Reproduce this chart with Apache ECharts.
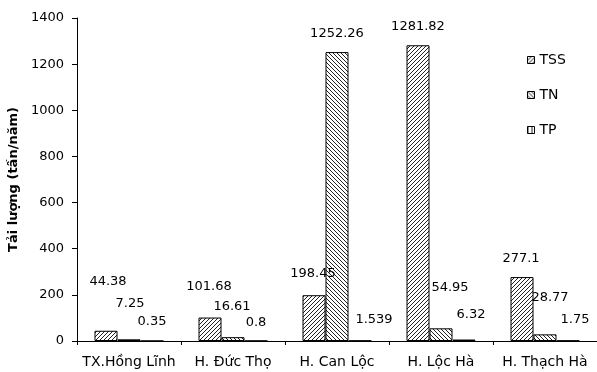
<!DOCTYPE html>
<html>
<head>
<meta charset="utf-8">
<script src="https://cdn.jsdelivr.net/npm/echarts@6/dist/echarts.min.js"></script>
<style>html,body{margin:0;padding:0;background:#fff}#c{width:597px;height:372px}</style>
</head>
<body>
<div id="c"></div>
<script>
// ---- data ----
const categories = ['TX.Hồng Lĩnh', 'H. Đức Thọ', 'H. Can Lộc', 'H. Lộc Hà', 'H. Thạch Hà'];
const seriesNames = ['TSS', 'TN', 'TP'];
const tss = [44.38, 101.68, 198.45, 1281.82, 277.1];
const tn = [7.25, 16.61, 1252.26, 54.95, 28.77];
const tp = [0.35, 0.8, 1.539, 6.32, 1.75];
const yTicks = [0, 200, 400, 600, 800, 1000, 1200, 1400];
const yAxisTitle = 'Tải lượng (tấn/năm)';

// ---- styling (label nudges, as in the original figure) ----
const labelOffsets = {
  TSS: [[2, -43], [-1, -24], [-1, -15], [0, -12], [-1, -12]],
  TN:  [[1, -29], [-1, -24], [0, -12], [9, -34], [5, -30]],
  TP:  [[0, -12], [0, -11], [14, -14], [7, -18], [7, -14]]
};

function makePattern(kind) {
  const n = 4;
  const c = document.createElement('canvas');
  c.width = n; c.height = n;
  const ctx = c.getContext('2d');
  ctx.fillStyle = '#ffffff';
  ctx.fillRect(0, 0, n, n);
  ctx.fillStyle = '#222222';
  for (let i = 0; i < n; i++) {
    if (kind === 'fwd') ctx.fillRect(n - 1 - i, i, 1, 1);
    else if (kind === 'back') ctx.fillRect(i, i, 1, 1);
    else ctx.fillRect(0, i, 1, 1);
  }
  return { image: c, repeat: 'repeat' };
}
const patterns = { TSS: makePattern('fwd'), TN: makePattern('back'), TP: makePattern('vert') };
const values = { TSS: tss, TN: tn, TP: tp };

const font = 'DejaVu Sans';
const series = seriesNames.map(name => ({
  name: name,
  type: 'bar',
  barWidth: 23,
  barGap: '0%',
  itemStyle: { color: patterns[name], borderColor: '#000', borderWidth: 1 },
  label: { show: true, position: 'top', distance: 0, color: '#000', fontFamily: font, fontSize: 13 },
  data: values[name].map((v, i) => ({ value: v, label: { offset: labelOffsets[name][i] } }))
}));

const chart = echarts.init(document.getElementById('c'), null, { renderer: 'canvas' });
chart.setOption({
  animation: false,
  backgroundColor: '#fff',
  textStyle: { fontFamily: font, color: '#000' },
  grid: { left: 77, right: 0, top: 18, bottom: 31, containLabel: false, outerBoundsMode: 'none' },
  legend: {
    orient: 'vertical', left: 522, top: 48,
    icon: 'rect', itemWidth: 7, itemHeight: 7, itemGap: 21,
    textStyle: { fontFamily: font, fontSize: 14, color: '#000', padding: [0, 0, 0, 0] },
    itemStyle: { borderColor: '#000', borderWidth: 1 },
    data: seriesNames
  },
  xAxis: {
    type: 'category', data: categories,
    axisLine: { lineStyle: { color: '#000', width: 1 } },
    axisTick: { show: true, length: 4, lineStyle: { color: '#000' } },
    axisLabel: { color: '#000', fontFamily: font, fontSize: 14, margin: 14, interval: 0, hideOverlap: false },
    splitLine: { show: false }
  },
  yAxis: {
    type: 'value', min: yTicks[0], max: yTicks[yTicks.length - 1], interval: yTicks[1] - yTicks[0],
    name: yAxisTitle, nameLocation: 'middle', nameGap: 46, nameRotate: 90,
    nameTextStyle: { fontFamily: font, fontSize: 13, fontWeight: 'bold', color: '#000' },
    axisLine: { show: true, lineStyle: { color: '#000', width: 1 } },
    axisTick: { show: true, length: 5, lineStyle: { color: '#000' } },
    axisLabel: { color: '#000', fontFamily: font, fontSize: 13, margin: 13, formatter: v => String(v) },
    splitLine: { show: false }
  },
  series: series
});
</script>
</body>
</html>
